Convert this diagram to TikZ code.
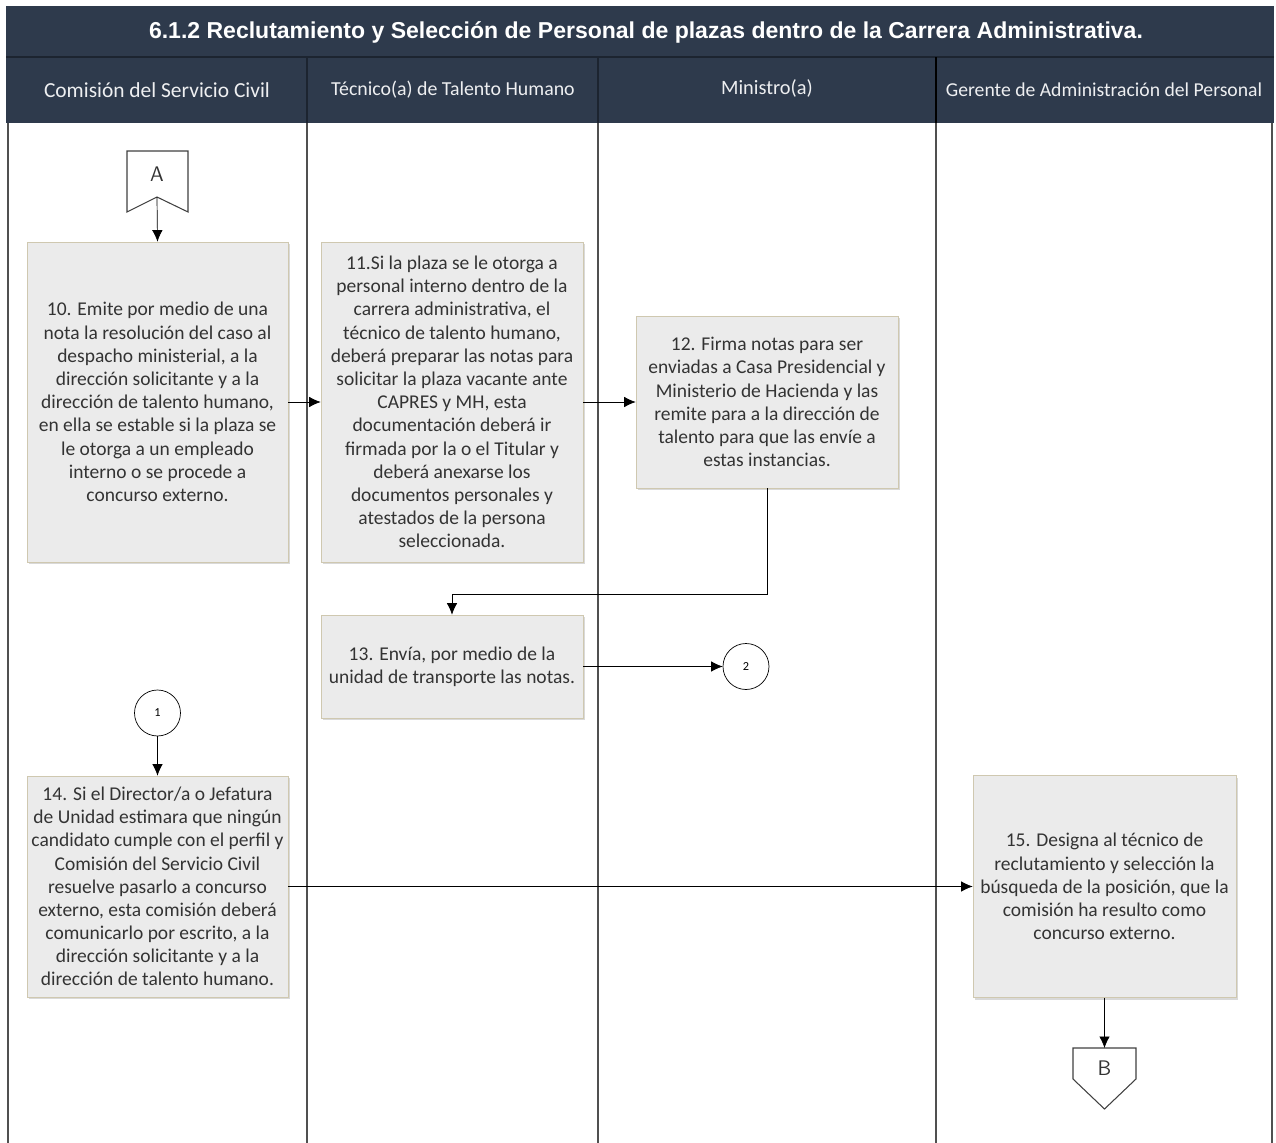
\documentclass[tikz,border=0pt]{standalone}
\usepackage{fontspec}
\setmainfont{Carlito}
\newfontfamily\titlefont{Liberation Sans}
\usepackage{tikz}
\usetikzlibrary{shadows}
\usetikzlibrary{arrows.meta}
\definecolor{navy}{HTML}{2E3A4C}
\definecolor{navyline}{HTML}{1C2430}
\definecolor{boxgray}{HTML}{EBEBEB}
\definecolor{boxline}{HTML}{CFC8B0}
\definecolor{txtgray}{HTML}{333333}
\definecolor{lanegray}{HTML}{505050}
\tikzset{>={Latex[length=2.3mm, width=2.1mm]}}
\tikzset{
  stepbox/.style={draw=boxline, fill=boxgray, text=txtgray, align=center, inner sep=0pt,
    drop shadow={shadow xshift=1.2pt, shadow yshift=-1.2pt, opacity=0.3},
    font=\fontsize{11.1}{13.2}\selectfont},
  lanehead/.style={text=white!92!navy},
  lane/.style={draw=lanegray, line width=1.1pt},
  pageref/.style={draw=black!75, fill=white, line width=0.6pt},
  joint/.style={draw=black, fill=white, circle, minimum size=0.92cm, inner sep=0pt, font=\fontsize{7}{8}\selectfont}
}

\begin{document}
\begin{tikzpicture}[x=0.02cm, y=-0.02cm]
	\useasboundingbox (0,0) rectangle (1276,1143);
	% cabecera
	\fill[navy] (6,6) rectangle (1274,123);
	\node (titulo) at (646,32) [text=white, font=\titlefont\bfseries\fontsize{13.1}{15}\selectfont] {6.1.2 Reclutamiento y Selección de Personal de plazas dentro de la Carrera Administrativa.};
	\draw[navyline, line width=0.8pt] (6,57) -- (1274,57);
	\node (hcsc) at (157,90) [lanehead, font=\fontsize{12.2}{14}\selectfont] {Comisión del Servicio Civil};
	\node (htth) at (453,90) [lanehead, font=\fontsize{11.3}{13}\selectfont] {Técnico(a) de Talento Humano};
	\node (hmin) at (767,88) [lanehead, font=\fontsize{11.6}{13}\selectfont] {Ministro(a)};
	\node (hgap) at (1104,90) [lanehead, font=\fontsize{11.2}{13}\selectfont] {Gerente de Administración del Personal};
	\draw[navyline, line width=0.8pt] (307,57) -- (307,123);
	\draw[navyline, line width=0.8pt] (598,57) -- (598,123);
	\draw[black, line width=0.8pt] (936,57) -- (936,123);
	% carriles
	\draw[lane] (8,123) -- (8,1143);
	\draw[lane] (307,123) -- (307,1143);
	\draw[lane] (598,123) -- (598,1143);
	\draw[lane] (936,123) -- (936,1143);
	\draw[lane] (1272,123) -- (1272,1143);

	% conector A
	\draw[pageref] (127,151) -- (188,151) -- (188,212) -- (157,197) -- (127,212) -- cycle;
	\node (offA) at (157,174) [font=\sffamily\fontsize{12}{14}\selectfont, text=black!80] {A};
	\coordinate (offAtip) at (157,197);

	\node (b10) at (157.5,402) [stepbox, minimum width=5.22cm, minimum height=6.4cm] {10. Emite por medio de una\\nota la resolución del caso al\\despacho ministerial, a la\\dirección solicitante y a la\\dirección de talento humano,\\en ella se estable si la plaza se\\le otorga a un empleado\\interno o se procede a\\concurso externo.};
	\node (b11) at (452,402) [stepbox, minimum width=5.24cm, minimum height=6.4cm] {11.Si la plaza se le otorga a\\personal interno dentro de la\\carrera administrativa, el\\técnico de talento humano,\\deberá preparar las notas para\\solicitar la plaza vacante ante\\CAPRES y MH, esta\\documentación deberá ir\\firmada por la o el Titular y\\deberá anexarse los\\documentos personales y\\atestados de la persona\\seleccionada.};
	\node (b12) at (767,402) [stepbox, minimum width=5.24cm, minimum height=3.44cm] {12. Firma notas para ser\\enviadas a Casa Presidencial y\\Ministerio de Hacienda y las\\remite para a la dirección de\\talento para que las envíe a\\estas instancias.};
	\node (b13) at (452,666.5) [stepbox, minimum width=5.24cm, minimum height=2.06cm] {13. Envía, por medio de la\\unidad de transporte las notas.};
	\node (c2) at (746,666.5) [joint] {2};
	\node (c1) at (157.5,713) [joint] {1};
	\node (b14) at (157.5,886.5) [stepbox, minimum width=5.22cm, minimum height=4.42cm] {14. Si el Director/a o Jefatura\\de Unidad estimara que ningún\\candidato cumple con el perfil y\\Comisión del Servicio Civil\\resuelve pasarlo a concurso\\externo, esta comisión deberá\\comunicarlo por escrito, a la\\dirección solicitante y a la\\dirección de talento humano.};
	\node (b15) at (1104.5,886.5) [stepbox, minimum width=5.26cm, minimum height=4.44cm] {15. Designa al técnico de\\reclutamiento y selección la\\búsqueda de la posición, que la\\comisión ha resulto como\\concurso externo.};

	% conector B
	\draw[pageref] (1073,1048) -- (1136,1048) -- (1136,1079) -- (1104.5,1109) -- (1073,1079) -- cycle;
	\node (offB) at (1104.5,1068) [font=\sffamily\fontsize{12}{14}\selectfont, text=black!80] {B};
	\coordinate (offBtop) at (1104.5,1048);

	% flujo
	\coordinate (bend) at (0,594);
	\draw[->] (offAtip) -- (b10.north);
	\draw[->] (b10.east) -- (b11.west);
	\draw[->] (b11.east) -- (b12.west);
	\draw[->] (b12.south) -- (b12.south |- bend) -| (b13.north);
	\draw[->] (b13.east) -- (c2.west);
	\draw[->] (c1.south) -- (b14.north);
	\draw[->] (b14.east) -- (b15.west);
	\draw[->] (b15.south) -- (offBtop);
\end{tikzpicture}
\end{document}
